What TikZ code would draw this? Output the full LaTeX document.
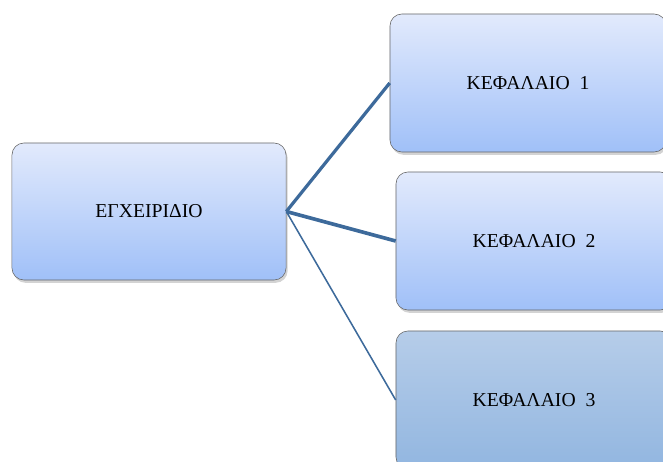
\documentclass[tikz,border=0pt]{standalone}
\usepackage{fontspec}
\setmainfont{Liberation Serif}
\usetikzlibrary{shadows}
\definecolor{topblue}{HTML}{E2EAFC}
\definecolor{botblue}{HTML}{A0C0F8}
\definecolor{topdark}{HTML}{B6CDE9}
\definecolor{botdark}{HTML}{92B6E0}
\definecolor{linkblue}{HTML}{3D6A9B}
\tikzstyle{kouti}=[draw=black!60,rounded corners=0.3cm,top color=topblue,bottom color=botblue,
  drop shadow={opacity=0.35,shadow xshift=0.04cm,shadow yshift=-0.07cm},
  font=\fontsize{14}{16}\selectfont,inner sep=0pt]
\tikzstyle{koutidark}=[kouti,top color=topdark,bottom color=botdark]
\tikzstyle{grammi}=[linkblue]

\begin{document}
\begin{tikzpicture}[x=0.025cm,y=-0.025cm]
    \useasboundingbox (0,0) rectangle (663,461);
    \clip (0,0) rectangle (663,461);
    \node [kouti,minimum width=6.85cm,minimum height=3.425cm] (egx) at (149,211.5) {ΕΓΧΕΙΡΙΔΙΟ};
    \node [kouti,minimum width=6.9cm,minimum height=3.45cm] (kef1) at (528,83) {ΚΕΦΑΛΑΙΟ\ \ 1};
    \node [kouti,minimum width=6.9cm,minimum height=3.45cm] (kef2) at (534,241) {ΚΕΦΑΛΑΙΟ\ \ 2};
    \node [koutidark,minimum width=6.9cm,minimum height=3.45cm] (kef3) at (534,400) {ΚΕΦΑΛΑΙΟ\ \ 3};
    \draw [grammi,line width=2.3pt] (egx.east) -- (kef1.west);
    \draw [grammi,line width=2.6pt] (egx.east) -- (kef2.west);
    \draw [grammi,line width=1.1pt] (egx.east) -- (kef3.west);
\end{tikzpicture}
\end{document}
